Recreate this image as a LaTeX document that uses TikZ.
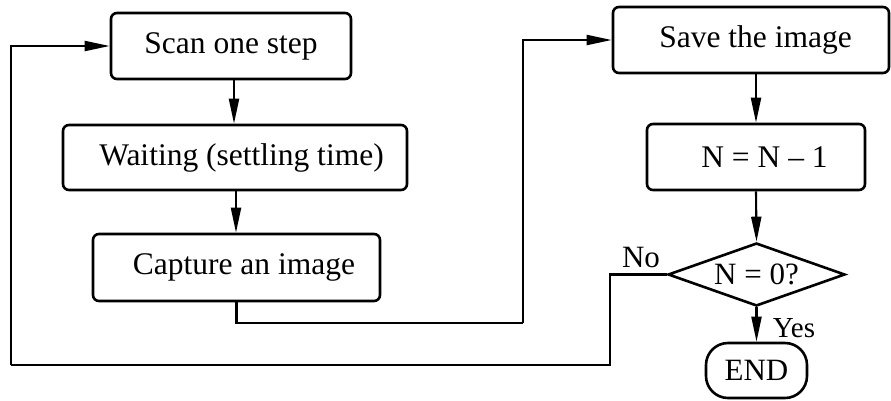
\documentclass[tikz,border=0pt]{standalone}
\usepackage{fontspec}
\setmainfont{Liberation Serif}
\usetikzlibrary{arrows.meta,shapes.geometric,calc}
\begin{document}
\begin{tikzpicture}[x=1pt,y=-1pt,
  box/.style={draw,line width=2.6pt,rounded corners=6pt,inner sep=0pt,
    font=\fontsize{31.5}{36}\selectfont},
  conn/.style={line width=2.1pt},
  arr/.style={conn,-{Triangle[length=25pt,width=10pt]}},
  lbl/.style={inner sep=0pt,font=\fontsize{31}{36}\selectfont}]
\useasboundingbox (0,0) rectangle (891,400);
\node[box,minimum width=240pt,minimum height=66pt] (scan) at (231,46) {Scan one step};
\node[box,minimum width=344pt,minimum height=65pt] (wait) at (235,157.5) {\hspace*{13pt}Waiting (settling time)};
\node[box,minimum width=287pt,minimum height=67pt] (cap) at (236.5,267.5) {\hspace*{15pt}Capture an image};
\node[box,minimum width=276pt,minimum height=66pt] (save) at (751,40) {\hspace*{9pt}Save the image};
\node[box,minimum width=218pt,minimum height=66pt] (nbox) at (756,157) {\hspace*{17pt}N = N – 1};
\node[draw,line width=2.6pt,diamond,aspect=2.8,inner sep=0pt,minimum width=177pt,minimum height=63pt,
  font=\fontsize{31}{36}\selectfont] (dia) at (756.5,274.5) {N = 0?};
\node[box,rounded corners=22pt,minimum width=101pt,minimum height=55pt,font=\fontsize{31}{36}\selectfont] (end) at (756.5,370.5) {END};
\node[lbl] (no) at (641,257) {No};
\node[lbl,font=\fontsize{29}{32}\selectfont] (yes) at (794,328) {Yes};
\coordinate (c1) at (523,323);
\coordinate (n1) at (610,365);
\coordinate (n2) at (11,365);
\draw[arr] ([xshift=3pt]scan.south) -- ([xshift=3pt]scan.south |- wait.north);
\draw[arr] ([xshift=1pt]wait.south) -- ([xshift=1pt]wait.south |- cap.north);
\draw[conn] (cap.south) |- (c1);
\draw[arr] (c1) |- (save.west);
\draw[arr] (save.south -| nbox.north) -- (nbox.north);
\draw[arr] (nbox.south) -- (dia.north);
\draw[arr] (dia.south) -- (end.north);
\draw[conn] (dia.west) -| (n1) -- (n2);
\draw[arr] (n2) |- (scan.west);
\end{tikzpicture}
\end{document}
